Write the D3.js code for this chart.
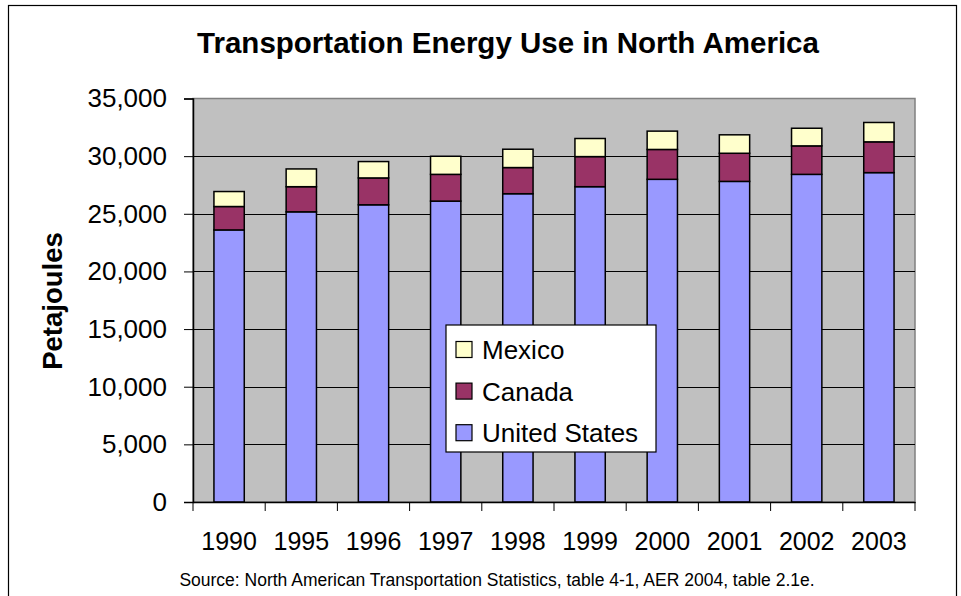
<!DOCTYPE html>
<html>
<head>
<meta charset="utf-8">
<script src="https://d3js.org/d3.v7.min.js"></script>
<style>
  body { margin: 0; background: #fff; }
  svg { font-family: "Liberation Sans", Arial, sans-serif; }
  .bar { stroke: #000; stroke-width: 1.5; }
</style>
</head>
<body>
<svg width="961" height="596"></svg>
<script>
// values (petajoules)
var years = ["1990","1995","1996","1997","1998","1999","2000","2001","2002","2003"];
var us     = [23600, 25170, 25780, 26100, 26740, 27350, 27990, 27810, 28420, 28570];
var canada = [2030, 2180, 2330, 2320, 2270, 2610, 2590, 2440, 2470, 2670];
var mexico = [1300, 1540, 1420, 1570, 1590, 1570, 1590, 1600, 1530, 1680];
var yTicks = [0, 5000, 10000, 15000, 20000, 25000, 30000, 35000];
var seriesNames = ["United States", "Canada", "Mexico"];
var colors = ["#9999ff", "#993366", "#ffffcc"];

var svg = d3.select("svg");
var plotL = 193, plotR = 915, plotT = 98.5, plotB = 502;

var rows = years.map(function(y, i) {
  return {year: y, "United States": us[i], "Canada": canada[i], "Mexico": mexico[i]};
});

var x = d3.scaleBand().domain(years).range([plotL, plotR]).paddingInner(0.58).paddingOuter(0.29);
var y = d3.scaleLinear().domain([0, 35000]).range([plotB, plotT]);

// outer frame
svg.append("rect").attr("x", 8.5).attr("y", 5.5).attr("width", 948).attr("height", 600)
  .attr("fill", "none").attr("stroke", "#000").attr("stroke-width", 1.2);

// title
svg.append("text").attr("x", 508).attr("y", 53).attr("text-anchor", "middle")
  .attr("font-size", 29.5).attr("font-weight", "bold").text("Transportation Energy Use in North America");

// plot area
svg.append("rect").attr("x", plotL).attr("y", plotT).attr("width", plotR - plotL).attr("height", plotB - plotT)
  .attr("fill", "#c0c0c0").attr("stroke", "#808080").attr("stroke-width", 1.5);

// gridlines
svg.append("g").selectAll("line").data(yTicks.slice(1, -1)).enter().append("line")
  .attr("x1", plotL).attr("x2", plotR)
  .attr("y1", function(d) { return Math.round(y(d)) + 0.5; })
  .attr("y2", function(d) { return Math.round(y(d)) + 0.5; })
  .attr("stroke", "#000").attr("stroke-width", 1);

// stacked bars
var stack = d3.stack().keys(seriesNames);
var layers = stack(rows);
svg.append("g").selectAll("g").data(layers).enter().append("g")
  .attr("fill", function(d, i) { return colors[i]; })
  .selectAll("rect").data(function(d) { return d; }).enter().append("rect")
  .attr("class", "bar")
  .attr("x", function(d) { return x(d.data.year); })
  .attr("y", function(d) { return y(d[1]); })
  .attr("width", x.bandwidth())
  .attr("height", function(d) { return y(d[0]) - y(d[1]); });

// y axis
var yAxis = svg.append("g").attr("transform", "translate(" + plotL + ",0)")
  .call(d3.axisLeft(y).tickValues(yTicks).tickFormat(d3.format(",")).tickSize(9).tickPadding(17));
yAxis.selectAll("text").attr("font-size", 26).attr("fill", "#000").attr("font-family", "Liberation Sans, Arial, sans-serif");
yAxis.selectAll("line").attr("stroke", "#000");
yAxis.select(".domain").attr("stroke", "#000").attr("stroke-width", 1.5);

// x axis
var xAxis = svg.append("g").attr("transform", "translate(0," + plotB + ")")
  .call(d3.axisBottom(x).tickSize(0).tickPadding(30));
xAxis.select(".domain").attr("stroke", "#000").attr("stroke-width", 1.5);
xAxis.selectAll("text").attr("font-size", 25).attr("fill", "#000").attr("font-family", "Liberation Sans, Arial, sans-serif");
var bounds = years.map(function(d) { return x(d) + x.bandwidth() / 2 - x.step() / 2; });
bounds.push(plotR);
xAxis.selectAll(".bound").data(bounds).enter().append("line")
  .attr("x1", function(d) { return d; }).attr("x2", function(d) { return d; })
  .attr("y1", 0).attr("y2", 9).attr("stroke", "#000");

// y title
svg.append("text").attr("transform", "translate(62,301) rotate(-90)")
  .attr("text-anchor", "middle").attr("font-size", 27.5).attr("font-weight", "bold").text("Petajoules");

// source
svg.append("text").attr("x", 497).attr("y", 586).attr("text-anchor", "middle")
  .attr("font-size", 17.5).text("Source: North American Transportation Statistics, table 4-1, AER 2004, table 2.1e.");

// legend
var lg = svg.append("g").attr("transform", "translate(446,325)");
lg.append("rect").attr("width", 210).attr("height", 127).attr("fill", "#fff").attr("stroke", "#000").attr("stroke-width", 1.2);
var legendOrder = [2, 1, 0];
legendOrder.forEach(function(si, k) {
  var cy = 24.5 + k * 41.6;
  lg.append("rect").attr("x", 10).attr("y", cy - 8).attr("width", 16).attr("height", 16)
    .attr("fill", colors[si]).attr("stroke", "#000").attr("stroke-width", 1.2);
  lg.append("text").attr("x", 36).attr("y", cy + 9.5).attr("font-size", 26).text(seriesNames[si]);
});
</script>
</body>
</html>
